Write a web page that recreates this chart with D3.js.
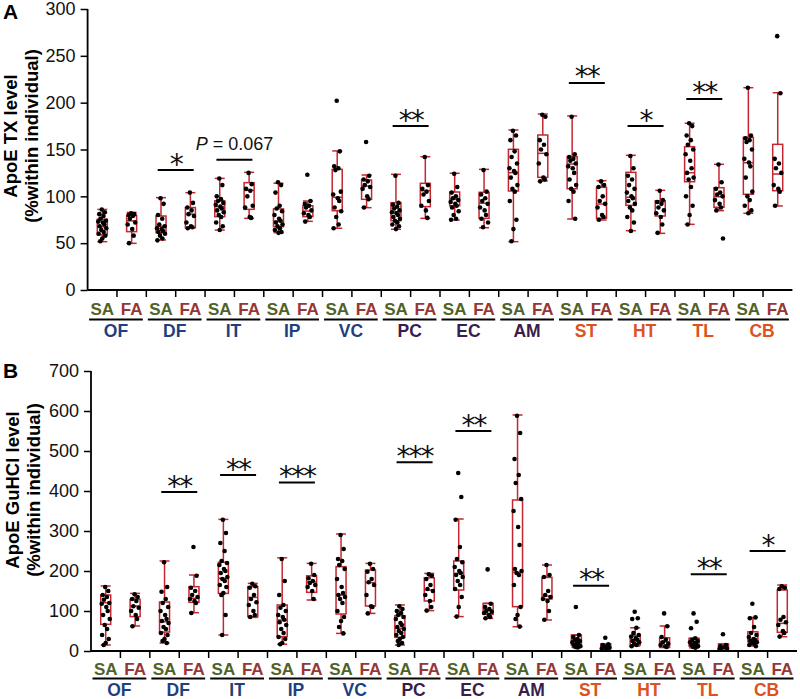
<!DOCTYPE html>
<html><head><meta charset="utf-8">
<script src="https://cdn.jsdelivr.net/npm/d3@7"></script>
<style>body{margin:0;background:#fff} svg{display:block}</style>
</head><body><svg id="c" width="800" height="699"></svg>
<script>
// ---------- DATA ----------
const regions = ["OF","DF","IT","IP","VC","PC","EC","AM","ST","HT","TL","CB"];
const groups = ["SA","FA"];
const regionLobe = ["f","f","f","f","f","p","p","p","s","s","s","s"];

// Panel A: ApoE TX level (order: OF-SA, OF-FA, DF-SA, DF-FA, ...)
const txLow  = [51.6,49.8,53.4,66.5,64,76.5,61.2,73.3,65.9,87.9,64.8,76.5,74.7,66.5,51.6,116.4,75.8,74.7,63.3,60.5,70.1,84.7,81.9,89.7];
const txQ1   = [59,62.3,61.2,66.5,78.3,86.1,67.6,78.3,84.7,96.8,74,89,90,76.5,105.7,120.3,108.1,76.5,90.4,79,115.6,88.3,102.2,106];
const txMed  = [67.3,73.8,68,81,89,106.4,73.5,84.3,99,111,83.6,106,96.8,92.6,125.2,145.9,134.5,91.8,99,94.3,125.2,99.6,135.9,123.8];
const txQ3   = [75.6,79.5,79,88,95.2,114.6,86.6,90,128.8,117.4,93.2,113.9,104.6,104.3,150.2,165.5,142.3,109.6,125.6,95.3,153,109.2,163,155.5];
const txHigh = [86,82.8,98.6,103.9,119.2,125.6,114,95,148.5,122.8,123.5,142.3,124.6,128.8,170.8,187.9,185.8,116.7,143.8,106.4,178,134.2,216,210.6];
const txPoints = [
  [86,83,81,79,76,74,73,72,70,68,66,64,62,60,58,55,52],
  [82,81,80,79,76,72,70,65,58,50],
  [98,92,80,76,70,68,66,65,63,62,60,58,55,53],
  [104,93,88,85,81,79,72,68,67,66],
  [119,112,100,97,95,93,91,89,87,85,83,80,78,72,68,64],
  [125,113,108,106,100,90,88,78,77],
  [115,112,104,90,87,84,80,76,74,72,70,68,66,64,62,61],
  [123,95,92,90,88,85,82,80,78,73],
  [202,148,132,130,128,105,102,98,95,88,84,78,70,66],
  [158,122,118,116,112,110,108,100,97,88],
  [122,93,91,89,87,85,83,82,80,78,76,74,72,70,68,65],
  [142,112,108,105,102,95,90,85,77],
  [124,110,104,100,98,96,94,92,90,88,84,80,76,75],
  [128,105,102,98,95,92,88,85,80,76,72,67],
  [170,165,160,148,142,135,130,127,125,120,112,108,105,95,75,65,52],
  [187,185,160,155,150,145,135,120,118,116],
  [185,145,142,140,138,135,132,130,125,118,112,108,105,95,76],
  [116,112,110,100,95,92,88,80,78,75],
  [143,130,122,118,112,108,104,100,98,95,92,88,85,78,72,63],
  [106,96,94,92,88,85,82,78,70,61],
  [178,175,165,160,155,150,145,138,130,125,120,118,110,100,90,80,70],
  [134,115,108,104,102,100,96,92,88,85,55],
  [216,165,162,160,158,150,140,136,132,120,105,100,96,90,85,82],
  [271,210,140,135,130,125,112,108,105,90]
];
const txSigRegion = ["DF","IT","PC","ST","HT","TL"];
const txSigLevel  = [128,139,175,221,175,204];
const txSigLabel  = ["*","P = 0.067","**","**","*","**"];
const txTicks = [0,50,100,150,200,250,300];

// Panel B: ApoE GuHCl level
const guLow  = [15,62.5,20,95.8,40,84,17,127.5,44,94,15,101,86,81.7,60.7,77.5,9,5,12.5,9,8,5,12.5,35.7];
const guQ1   = [66.7,86,47.5,121.7,144,86,36,146.7,92.5,112.5,34,125,152.5,91.7,110.8,130,15,6.7,15,9,12.5,9,23,46.7];
const guMed  = [120.8,112.5,73,131.7,181.7,134,77.5,173,140,171,56.7,152.5,194,102.5,196.7,137.5,25,12.5,26,23,23,12.5,29,69];
const guQ3   = [140,129,122.5,160.8,221.7,160.8,115,188,210.8,202.5,88.3,183,225,119,377.5,184,40,17.5,38,33,31.7,17.5,48,152.5];
const guHigh = [162.5,144,225,190,329,169,233,219,292.5,219,115,194,330,119,590,215,40,17.5,58,62.5,31.7,17.5,84,165];
const guPoints = [
  [160,150,140,135,128,120,118,110,100,90,80,65,55,40,30,20,15],
  [142,135,130,125,112,108,100,90,80,62],
  [222,160,148,130,120,110,100,90,80,75,70,60,55,45,40,30,25,20],
  [260,188,158,150,140,135,130,125,120,95],
  [328,295,270,250,225,220,215,205,200,195,185,180,175,165,160,145,140,90,40],
  [168,162,158,140,130,122,115,100,90,85],
  [230,175,140,115,108,100,90,85,78,72,65,55,45,35,30,20,17],
  [218,190,182,175,170,165,160,150,130],
  [290,255,230,225,215,205,180,160,145,140,135,130,120,100,85,75,60,44],
  [218,205,198,180,172,165,140,112,110,94],
  [112,105,100,95,90,85,80,70,65,60,55,50,45,40,35,30,25,20,15],
  [192,188,180,165,155,150,140,125,110,101],
  [445,385,328,260,230,222,210,200,195,190,185,175,165,155,135,110,86],
  [204,118,110,105,100,98,95,90,85,82],
  [588,545,480,440,420,380,350,310,265,205,200,195,190,165,110,90,80,61],
  [215,190,185,150,140,135,130,125,100,78],
  [110,40,35,30,28,25,22,20,18,15,12,10,9],
  [33,17,15,12,10,8,6,5],
  [98,82,80,58,45,40,36,32,28,25,22,18,15,12],
  [94,62,35,28,22,18,15,12,10],
  [94,73,57,32,28,25,22,20,18,15,12,10,8],
  [42,15,12,10,8,6,5],
  [118,84,82,60,45,40,35,30,28,25,22,20,18,15,12],
  [162,158,155,85,78,72,65,50,45,36]
];
const guSigRegion = ["DF","IT","IP","PC","EC","ST","TL","CB"];
const guSigLevel  = [397.5,440,421,472,550,163,192,250];
const guSigLabel  = ["**","**","***","***","**","**","**","*"];
const guTicks = [0,100,200,300,400,500,600,700];

// ---------- DRAWING ----------
const svg = d3.select("#c");
const lobeColor = {f:"#1f3f80", p:"#3a1d4c", s:"#dc5220"};
const groupColor = {SA:"#4f6228", FA:"#953735"};
const boxColor = "#c4272f";
const narrow = "'Liberation Sans Narrow', 'Arial Narrow', 'Liberation Sans', sans-serif";
const jit = [-0.5,2.6,-3,1.2,-1.8,3.6,-4,0.6,2,-2.6,4,-1,1.4,-3.6,3,0,-2,2.2,-1.2];
const keys = [];
regions.forEach(r => groups.forEach(g => keys.push(r + "-" + g)));

function drawPanel(o) {
  const g = svg.append("g");
  const x = d3.scaleBand().domain(keys).range([o.x0, o.x1]).paddingInner(0).paddingOuter(0);
  const y = d3.scaleLinear().domain([0, o.max]).range([o.yb, o.yt]);
  const bw = x.bandwidth();
  const cx = k => x(k) + bw / 2;

  // y axis
  const ya = g.append("g").attr("transform", `translate(${o.x0},0)`)
    .call(d3.axisLeft(y).tickValues(o.ticks).tickSize(7).tickPadding(5).tickSizeOuter(0));
  ya.select(".domain").attr("stroke-width", 1.8).attr("d", `M0,${o.yb}V${o.yt - 0}`);
  ya.selectAll(".tick line").attr("stroke-width", 1.5);
  ya.selectAll(".tick text").attr("font-family", "Liberation Sans, Arial, sans-serif").attr("font-size", 18).attr("fill", "#111");

  // x axis line and ticks
  g.append("line").attr("x1", o.x0).attr("x2", o.x1).attr("y1", o.yb).attr("y2", o.yb)
    .attr("stroke", "#000").attr("stroke-width", 1.8);
  g.selectAll(".xt").data(keys.slice(1)).enter().append("line")
    .attr("x1", k => x(k)).attr("x2", k => x(k)).attr("y1", o.yb).attr("y2", o.yb + 7)
    .attr("stroke", "#000").attr("stroke-width", 1.5);

  // SA / FA labels
  g.selectAll(".gl").data(keys).enter().append("text")
    .attr("x", k => cx(k)).attr("y", o.yb + o.saOff)
    .attr("text-anchor", "middle")
    .attr("font-family", narrow).attr("font-weight", "bold").attr("font-size", 17)
    .attr("fill", k => groupColor[k.split("-")[1]])
    .text(k => k.split("-")[1]);
  // underline + region labels
  regions.forEach((r, i) => {
    const a = x(r + "-SA"), b = x(r + "-FA") + bw;
    g.append("line").attr("x1", a + 1.5).attr("x2", b - 3.5).attr("y1", o.yb + o.ulOff).attr("y2", o.yb + o.ulOff)
      .attr("stroke", "#000").attr("stroke-width", 2);
    g.append("text").attr("x", (a + b) / 2 - 1).attr("y", o.yb + o.rgOff).attr("text-anchor", "middle")
      .attr("font-family", narrow).attr("font-weight", "bold").attr("font-size", 17.5)
      .attr("fill", lobeColor[regionLobe[i]]).text(r);
  });

  // boxes
  const hw = 5;
  keys.forEach((k, i) => {
    const c = cx(k);
    const bg = g.append("g").attr("stroke", boxColor).attr("stroke-width", 1.5).attr("fill", "none");
    bg.append("line").attr("x1", c).attr("x2", c).attr("y1", y(o.high[i])).attr("y2", y(o.q3[i]));
    bg.append("line").attr("x1", c).attr("x2", c).attr("y1", y(o.q1[i])).attr("y2", y(o.low[i]));
    bg.append("line").attr("x1", c - hw).attr("x2", c + hw).attr("y1", y(o.high[i])).attr("y2", y(o.high[i]));
    bg.append("line").attr("x1", c - hw).attr("x2", c + hw).attr("y1", y(o.low[i])).attr("y2", y(o.low[i]));
    bg.append("rect").attr("x", c - hw).attr("width", 2 * hw)
      .attr("y", y(o.q3[i])).attr("height", Math.max(0.5, y(o.q1[i]) - y(o.q3[i])));
    bg.append("line").attr("x1", c - hw).attr("x2", c + hw).attr("y1", y(o.med[i])).attr("y2", y(o.med[i]));
    g.selectAll(null).data(o.points[i]).enter().append("circle")
      .attr("cx", (d, j) => c + jit[j % jit.length])
      .attr("cy", d => y(d)).attr("r", 2.3).attr("fill", "#000");
  });

  // significance
  o.sigRegion.forEach((r, i) => {
    const a = cx(r + "-SA"), b = cx(r + "-FA");
    const m = (a + b) / 2, yy = y(o.sigLevel[i]);
    g.append("line").attr("x1", m - 18).attr("x2", m + 18).attr("y1", yy).attr("y2", yy)
      .attr("stroke", "#000").attr("stroke-width", 2);
    const lab = o.sigLabel[i];
    if (lab.startsWith("P")) {
      const t = g.append("text").attr("x", m).attr("y", yy - 10).attr("text-anchor", "middle")
        .attr("font-family", "Liberation Sans, Arial, sans-serif").attr("font-size", 18).attr("fill", "#111");
      t.append("tspan").attr("font-style", "italic").text("P");
      t.append("tspan").text(lab.slice(1));
    } else {
      g.append("text").attr("x", m).attr("y", yy - 12.5 + 16).attr("text-anchor", "middle")
        .attr("font-family", "DejaVu Sans, sans-serif").attr("font-size", 28).attr("letter-spacing", -2)
        .attr("fill", "#111").text(lab);
    }
  });

  // y title
  const tg = g.append("g").attr("font-family", "Liberation Sans, Arial, sans-serif")
    .attr("font-weight", "bold").attr("font-size", o.tfs).attr("fill", "#000").attr("text-anchor", "middle");
  tg.append("text").attr("transform", `translate(${o.t1x},${o.tcy}) rotate(-90)`).text(o.title1);
  tg.append("text").attr("transform", `translate(${o.t2x},${o.tcy}) rotate(-90)`).text("(%within individual)");
  // panel letter
  g.append("text").attr("x", 3).attr("y", o.letterY).attr("font-family", "Liberation Sans, Arial, sans-serif")
    .attr("font-weight", "bold").attr("font-size", 21).text(o.letter);
}

drawPanel({x0: 87.6, x1: 792.4, yb: 290, yt: 9, max: 300, ticks: txTicks,
  low: txLow, q1: txQ1, med: txMed, q3: txQ3, high: txHigh, points: txPoints,
  sigRegion: txSigRegion, sigLevel: txSigLevel, sigLabel: txSigLabel,
  saOff: 25, ulOff: 29.5, rgOff: 47,
  title1: "ApoE TX level", tfs: 18.5, t1x: 17, t2x: 38, tcy: 136, letter: "A", letterY: 19});

drawPanel({x0: 91, x1: 797, yb: 651, yt: 371, max: 700, ticks: guTicks,
  low: guLow, q1: guQ1, med: guMed, q3: guQ3, high: guHigh, points: guPoints,
  sigRegion: guSigRegion, sigLevel: guSigLevel, sigLabel: guSigLabel,
  saOff: 23.5, ulOff: 27.5, rgOff: 45,
  title1: "ApoE GuHCl level", tfs: 18.5, t1x: 19, t2x: 40, tcy: 490, letter: "B", letterY: 378});
</script></body></html>
